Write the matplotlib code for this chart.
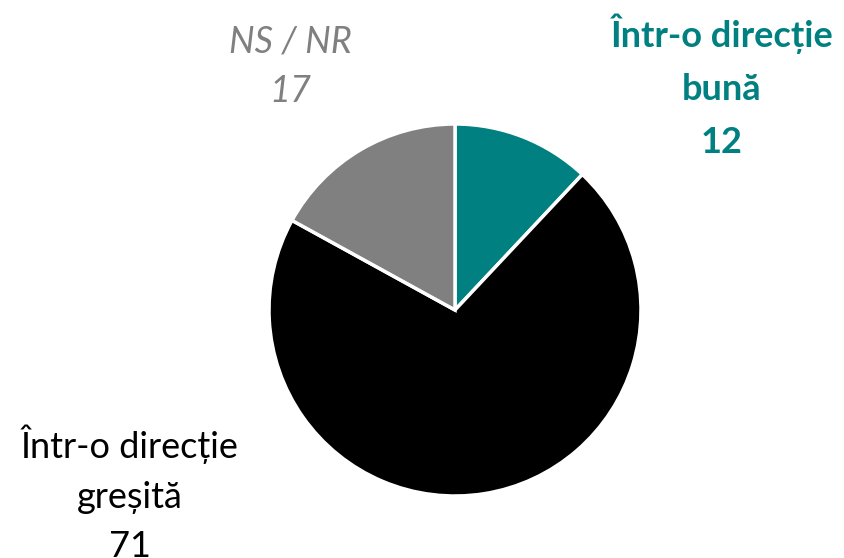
import matplotlib
matplotlib.use("Agg")
import matplotlib.pyplot as plt

categories = ["Într-o direcție bună", "Într-o direcție greșită", "NS / NR"]
values = [12, 71, 17]
colors = ["#008080", "#000000", "#808080"]

W, H = 845, 558
fig = plt.figure(figsize=(W / 100, H / 100), dpi=100)
cx, cy, R = 455, 310, 186
ax = fig.add_axes([(cx - R) / W, (H - cy - R) / H, 2 * R / W, 2 * R / H])
ax.pie(values, colors=colors, startangle=90, counterclock=False,
       wedgeprops=dict(edgecolor="white", linewidth=2.5))
ax.set_xlim(-1.0, 1.0)
ax.set_ylim(-1.0, 1.0)
ax.set_aspect("equal")

fam = ["Lato", "DejaVu Sans"]
fs = 26

def label(x, y, txt, ls, **kw):
    fig.text(x / W, 1 - y / H, txt, ha="center", va="center",
             fontsize=fs, family=fam, linespacing=ls, **kw)

label(722, 86, f"Într-o direcție\nbună\n{values[0]}", 1.72, color=colors[0], fontweight="bold")
label(290, 67, f"NS / NR\n{values[2]}", 1.6, color=colors[2], style="italic")
label(130, 494, f"Într-o direcție\ngreșită\n{values[1]}", 1.62, color=colors[1])

fig.savefig("out.png", dpi=100)
